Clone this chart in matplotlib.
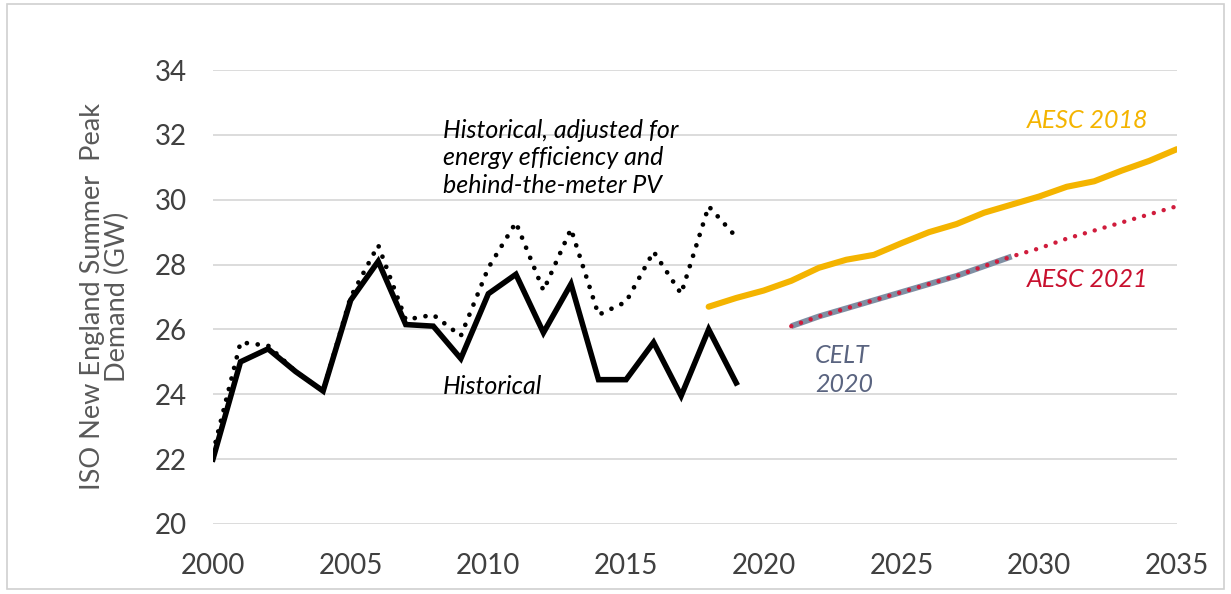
import matplotlib
matplotlib.use("Agg")
import matplotlib.pyplot as plt
from matplotlib.patches import Rectangle

# ---- data ----
hist_years = list(range(2000, 2020))
historical = [22.0, 25.0, 25.4, 24.7, 24.1, 26.9, 28.1, 26.15, 26.1, 25.1,
              27.1, 27.7, 25.9, 27.4, 24.45, 24.45, 25.6, 23.95, 26.0, 24.35]
adjusted = [22.2, 25.6, 25.5, 24.7, 24.1, 27.0, 28.6, 26.3, 26.45, 25.8,
            27.9, 29.3, 27.2, 29.1, 26.45, 26.85, 28.4, 27.1, 29.8, 28.85]

aesc2018_years = list(range(2018, 2036))
aesc2018 = [26.7, 26.97, 27.2, 27.5, 27.9, 28.15, 28.3, 28.66, 29.0, 29.25,
            29.6, 29.85, 30.1, 30.4, 30.57, 30.9, 31.2, 31.56]

aesc2021_years = list(range(2021, 2036))
aesc2021 = [26.1, 26.4, 26.65, 26.9, 27.15, 27.4, 27.65, 27.95, 28.25, 28.5,
            28.8, 29.05, 29.3, 29.55, 29.8]

celt_years = list(range(2021, 2030))
celt2020 = [26.1, 26.4, 26.65, 26.9, 27.15, 27.4, 27.65, 27.95, 28.25]

x_ticks = [2000, 2005, 2010, 2015, 2020, 2025, 2030, 2035]
y_ticks = [20, 22, 24, 26, 28, 30, 32, 34]

FONT = ["Lato", "DejaVu Sans"]
plt.rcParams['font.family'] = FONT

fig = plt.figure(figsize=(12.31, 5.94), dpi=100)
fig.patches.append(Rectangle((0.006, 0.008), 0.988, 0.985, transform=fig.transFigure,
                             fill=False, edgecolor="#d0d0d0", lw=1.2))
ax = fig.add_axes([0.173, 0.118, 0.783, 0.764])

ax.set_xlim(2000, 2035)
ax.set_ylim(20, 34)
for s in ax.spines.values():
    s.set_visible(False)
ax.set_yticks(y_ticks)
ax.set_xticks(x_ticks)
ax.grid(axis='y', color="#d9d9d9", lw=1.3)
ax.set_axisbelow(True)
ax.tick_params(length=0, labelsize=20, labelcolor="#404040")
ax.tick_params(axis='y', pad=19)
ax.tick_params(axis='x', pad=21)

ax.set_ylabel("ISO New England Summer  Peak\nDemand (GW)", fontsize=19.5,
              color="#595959", linespacing=1.0)
ax.yaxis.set_label_coords(-0.086, 0.5)

ax.plot(celt_years, celt2020, color="#7f8fa3", lw=4.2, solid_capstyle='butt', zorder=3)
ax.plot(aesc2021_years, aesc2021, color="#d01c3c", lw=3.2, linestyle=(0, (0.01, 2.3)),
        dash_capstyle='round', zorder=4)
ax.plot(aesc2018_years, aesc2018, color="#f4b400", lw=4.4, solid_capstyle='round', zorder=3)
ax.plot(hist_years, adjusted, color="black", lw=3.4, linestyle=(0, (0.01, 2.3)),
        dash_capstyle='round', zorder=4)
ax.plot(hist_years, historical, color="black", lw=4.0, solid_joinstyle='miter', zorder=5)

ax.text(2008.35, 30.22, "Historical, adjusted for\nenergy efficiency and\nbehind-the-meter PV",
        fontsize=18, style='italic', color="black", va='baseline', ha='left',
        multialignment='left', linespacing=1.22)
ax.text(2008.35, 24.0, "Historical", fontsize=18, style='italic', color="black",
        va='baseline', ha='left')
ax.text(2029.56, 32.22, "AESC 2018", fontsize=18, style='italic', color="#f4b400",
        va='baseline', ha='left')
ax.text(2029.56, 27.31, "AESC 2021", fontsize=18, style='italic', color="#c8102e",
        va='baseline', ha='left')
ax.text(2021.86, 24.07, "CELT\n2020", fontsize=18, style='italic', color="#5a6480",
        va='baseline', ha='left', multialignment='left', linespacing=1.3)

fig.savefig("out.png", dpi=100, facecolor="white")
